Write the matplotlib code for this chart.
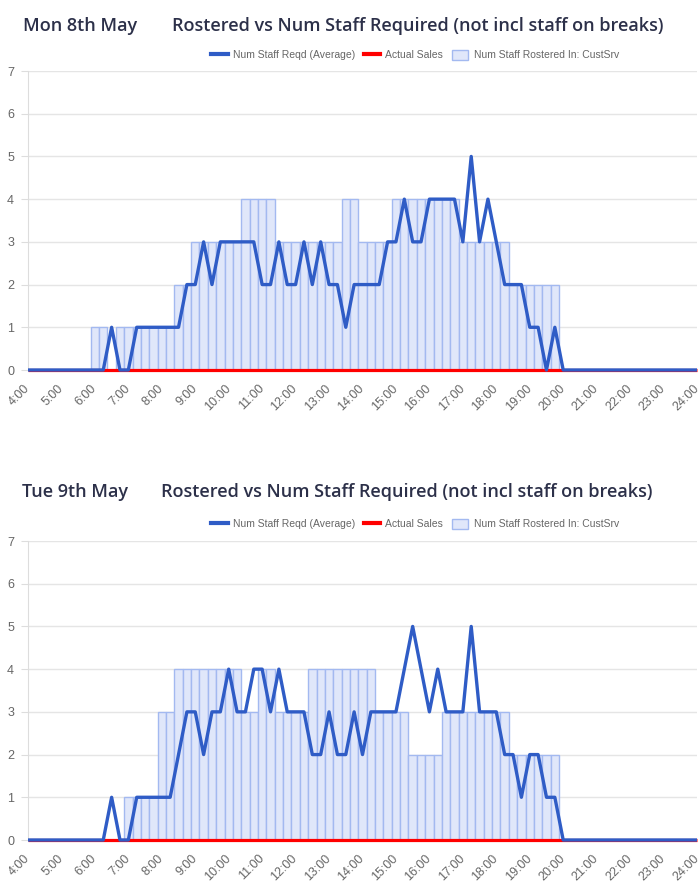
import matplotlib
matplotlib.use('Agg')
import matplotlib.pyplot as plt
from matplotlib.lines import Line2D
from matplotlib.patches import Patch

# 15-minute slots from 4:00 to 24:00, one row per hour
hour_labels = ['4:00', '5:00', '6:00', '7:00', '8:00', '9:00', '10:00', '11:00',
               '12:00', '13:00', '14:00', '15:00', '16:00', '17:00', '18:00',
               '19:00', '20:00', '21:00', '22:00', '23:00', '24:00']

mon_rostered = [0, 0, 0, 0,  0, 0, 0, 0,  1, 1, 0, 1,  1, 1, 1, 1,
                1, 1, 2, 2,  3, 3, 3, 3,  3, 3, 4, 4,  4, 4, 3, 3,
                3, 3, 3, 3,  3, 3, 4, 4,  3, 3, 3, 3,  4, 4, 4, 4,
                4, 4, 4, 4,  3, 3, 3, 3,  3, 3, 2, 2,  2, 2, 2, 2,
                0, 0, 0, 0,  0, 0, 0, 0,  0, 0, 0, 0,  0, 0, 0, 0,  0]
mon_required = [0, 0, 0, 0,  0, 0, 0, 0,  0, 0, 1, 0,  0, 1, 1, 1,
                1, 1, 1, 2,  2, 3, 2, 3,  3, 3, 3, 3,  2, 2, 3, 2,
                2, 3, 2, 3,  2, 2, 1, 2,  2, 2, 2, 3,  3, 4, 3, 3,
                4, 4, 4, 4,  3, 5, 3, 4,  3, 2, 2, 2,  1, 1, 0, 1,
                0, 0, 0, 0,  0, 0, 0, 0,  0, 0, 0, 0,  0, 0, 0, 0,  0]
mon_sales = [0, 0, 0, 0,  0, 0, 0, 0,  0, 0, 0, 0,  0, 0, 0, 0,
             0, 0, 0, 0,  0, 0, 0, 0,  0, 0, 0, 0,  0, 0, 0, 0,
             0, 0, 0, 0,  0, 0, 0, 0,  0, 0, 0, 0,  0, 0, 0, 0,
             0, 0, 0, 0,  0, 0, 0, 0,  0, 0, 0, 0,  0, 0, 0, 0,
             0, 0, 0, 0,  0, 0, 0, 0,  0, 0, 0, 0,  0, 0, 0, 0,  0]

tue_rostered = [0, 0, 0, 0,  0, 0, 0, 0,  0, 0, 0, 0,  1, 1, 1, 1,
                3, 3, 4, 4,  4, 4, 4, 4,  4, 4, 3, 3,  4, 4, 3, 3,
                3, 3, 4, 4,  4, 4, 4, 4,  4, 4, 3, 3,  3, 3, 2, 2,
                2, 2, 3, 3,  3, 3, 3, 3,  3, 3, 2, 2,  2, 2, 2, 2,
                0, 0, 0, 0,  0, 0, 0, 0,  0, 0, 0, 0,  0, 0, 0, 0,  0]
tue_required = [0, 0, 0, 0,  0, 0, 0, 0,  0, 0, 1, 0,  0, 1, 1, 1,
                1, 1, 2, 3,  3, 2, 3, 3,  4, 3, 3, 4,  4, 3, 4, 3,
                3, 3, 2, 2,  3, 2, 2, 3,  2, 3, 3, 3,  3, 4, 5, 4,
                3, 4, 3, 3,  3, 5, 3, 3,  3, 2, 2, 1,  2, 2, 1, 1,
                0, 0, 0, 0,  0, 0, 0, 0,  0, 0, 0, 0,  0, 0, 0, 0,  0]
tue_sales = [0, 0, 0, 0,  0, 0, 0, 0,  0, 0, 0, 0,  0, 0, 0, 0,
             0, 0, 0, 0,  0, 0, 0, 0,  0, 0, 0, 0,  0, 0, 0, 0,
             0, 0, 0, 0,  0, 0, 0, 0,  0, 0, 0, 0,  0, 0, 0, 0,
             0, 0, 0, 0,  0, 0, 0, 0,  0, 0, 0, 0,  0, 0, 0, 0,
             0, 0, 0, 0,  0, 0, 0, 0,  0, 0, 0, 0,  0, 0, 0, 0,  0]

day_titles = ['Mon 8th May', 'Tue 9th May']
chart_title = 'Rostered vs Num Staff Required (not incl staff on breaks)'

BLUE = '#2f5cc6'
RED = '#ff0000'
BAR_FILL = '#e0e7fa'
BAR_EDGE = '#a3b9f0'
TITLE_COL = '#2c3049'
GREY = '#666666'

W, H = 700, 888
fig = plt.figure(figsize=(W / 100, H / 100), dpi=100)

# pixel layout for each panel: (axes top, axes bottom, title y, title x, title2 x, legend y)
panels = [
    (71, 370, 26, 23, 172, 55),
    (541, 840, 492, 22, 161, 524),
]
days = [
    (mon_rostered, mon_required, mon_sales),
    (tue_rostered, tue_required, tue_sales),
]

for (top, bottom, ty, tx1, tx2, ly), (rost, req, sales), day in zip(panels, days, day_titles):
    ax = fig.add_axes([28 / W, 1 - bottom / H, 669 / W, (bottom - top) / H])
    x = list(range(len(rost)))

    ax.bar(x, rost, width=1.0, color=BAR_FILL, edgecolor=BAR_EDGE, linewidth=1, zorder=1)
    ax.plot(x, sales, color=RED, lw=2.3, zorder=2, solid_capstyle='butt', clip_on=False)
    ax.plot(x, req, color=BLUE, lw=2.4, zorder=3, solid_joinstyle='round',
            solid_capstyle='butt', clip_on=False)

    ax.set_xlim(0, 80)
    ax.set_ylim(0, 7)
    ax.set_yticks(range(8))
    ax.set_xticks(range(0, 81, 4))
    ax.set_xticklabels(hour_labels, rotation=45, ha='right', va='center',
                       rotation_mode='anchor', family='Liberation Sans',
                       fontsize=9, color=GREY)
    for lab in ax.get_yticklabels():
        lab.set_family('Liberation Sans')
        lab.set_fontsize(9)
        lab.set_color(GREY)
    ax.tick_params(axis='x', length=0, pad=12)
    ax.tick_params(axis='y', length=5, color='#dddddd', pad=5)
    ax.grid(axis='y', color='#e5e5e5', lw=1, zorder=0)
    ax.set_axisbelow(True)
    for s in ['top', 'right', 'bottom']:
        ax.spines[s].set_visible(False)
    ax.spines['left'].set_color('#dddddd')

    fig.text(tx1 / W, 1 - ty / H, day, family='Open Sans', weight='semibold',
             fontsize=13, color=TITLE_COL, va='center', ha='left')
    fig.text(tx2 / W, 1 - ty / H, chart_title, family='Open Sans', weight='semibold',
             fontsize=13, color=TITLE_COL, va='center', ha='left')

    handles = [Line2D([], [], color=BLUE, lw=3),
               Line2D([], [], color=RED, lw=3),
               Patch(facecolor=BAR_FILL, edgecolor=BAR_EDGE, lw=1)]
    names = ['Num Staff Reqd (Average)', 'Actual Sales', 'Num Staff Rostered In: CustSrv']
    leg = fig.legend(handles, names, loc='center', bbox_to_anchor=(415 / W, 1 - ly / H),
                     ncol=3, frameon=False, handlelength=1.6, handleheight=1.2,
                     handletextpad=0.5, columnspacing=0.8,
                     prop={'family': 'Liberation Sans', 'size': 7.5})
    for t in leg.get_texts():
        t.set_color(GREY)

fig.savefig('out.png', dpi=100)
